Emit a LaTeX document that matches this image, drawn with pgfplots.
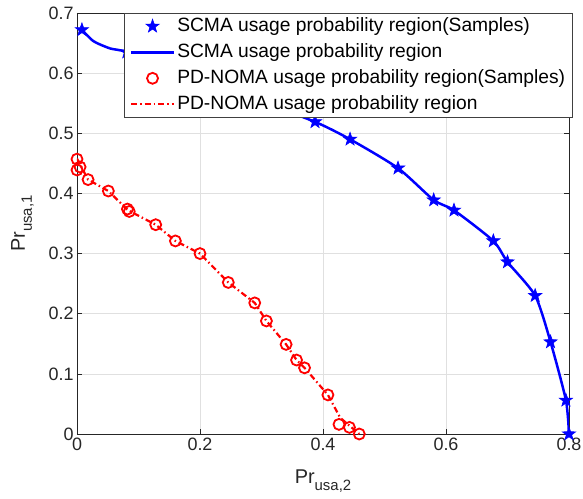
\documentclass[border=0pt]{standalone}
\usepackage{fontspec}
\setmainfont{Liberation Sans}
\usepackage{pgfplots}
\pgfplotsset{compat=1.18}
\pgfdeclareplotmark{pentagram}{%
  \pgfpathmoveto{\pgfpointpolar{90}{\pgfplotmarksize}}%
  \pgfpathlineto{\pgfpointpolar{126}{0.40\pgfplotmarksize}}%
  \pgfpathlineto{\pgfpointpolar{162}{\pgfplotmarksize}}%
  \pgfpathlineto{\pgfpointpolar{198}{0.40\pgfplotmarksize}}%
  \pgfpathlineto{\pgfpointpolar{234}{\pgfplotmarksize}}%
  \pgfpathlineto{\pgfpointpolar{270}{0.40\pgfplotmarksize}}%
  \pgfpathlineto{\pgfpointpolar{306}{\pgfplotmarksize}}%
  \pgfpathlineto{\pgfpointpolar{342}{0.40\pgfplotmarksize}}%
  \pgfpathlineto{\pgfpointpolar{18}{\pgfplotmarksize}}%
  \pgfpathlineto{\pgfpointpolar{54}{0.40\pgfplotmarksize}}%
  \pgfpathclose
  \pgfusepathqfillstroke}
\begin{document}
\begin{tikzpicture}
\path[use as bounding box] (-77bp,-65bp) rectangle (506bp,434bp);
\begin{axis}[
  at={(0,0)}, anchor=south west,
  scale only axis, width=492bp, height=421bp,
  xmin=0, xmax=0.8, ymin=0, ymax=0.7,
  xtick={0,0.2,0.4,0.6,0.8}, xticklabels={0,0.2,0.4,0.6,0.8},
  ytick={0,0.1,0.2,0.3,0.4,0.5,0.6,0.7},
  yticklabels={0,0.1,0.2,0.3,0.4,0.5,0.6,0.7},
  tick align=inside, major tick length=5bp,
  tick style={black!85, line width=0.6bp},
  axis line style={black!85, line width=0.6bp},
  grid=major, grid style={black!12, line width=0.6bp},
  ticklabel style={font=\fontsize{18}{20}\selectfont, text=black!85},
  /pgf/number format/assume math mode=true,
  xlabel={Pr\raisebox{-0.35em}{\fontsize{15}{15}\selectfont usa,2}},
  ylabel={Pr\raisebox{-0.35em}{\fontsize{15}{15}\selectfont usa,1}},
  label style={font=\fontsize{20}{22}\selectfont, text=black!85},
  xlabel style={yshift=-13bp},
  ylabel style={yshift=8bp},
  legend style={at={(1,1)}, anchor=north east, xshift=4bp,
    font=\fontsize{19.3}{22}\selectfont, draw=black!75, line width=0.6bp,
    inner xsep=5.5bp, inner ysep=0bp,
    nodes={text height=14bp, text depth=4bp, inner ysep=4bp}},
  legend cell align=left,
  legend image code/.code={\draw[mark repeat=2,mark phase=2,#1] plot coordinates {(0bp,0bp) (21.5bp,0bp) (43bp,0bp)};},
]
% SCMA samples
\addplot[only marks, blue, mark=pentagram, mark size=7bp, mark options={fill=blue, line width=0.6bp}] coordinates {
(0.008,0.672) (0.081,0.635) (0.18,0.598) (0.28,0.560) (0.387,0.519) (0.444,0.490) (0.522,0.442) (0.580,0.389)
(0.613,0.372) (0.677,0.321) (0.700,0.286) (0.745,0.230) (0.770,0.153) (0.795,0.056) (0.800,0.000)
};
\addlegendentry{SCMA usage probability region(Samples)}
% SCMA curve
\addplot[blue, line width=2.5bp, smooth, tension=0.4] coordinates {
(0.008,0.672) (0.027,0.653) (0.054,0.641) (0.081,0.635) (0.18,0.598) (0.28,0.560) (0.387,0.519) (0.444,0.490) (0.522,0.442) (0.580,0.389)
(0.613,0.372) (0.677,0.321) (0.700,0.286) (0.745,0.230) (0.770,0.153) (0.795,0.056) (0.800,0.000)
};
\addlegendentry{SCMA usage probability region}
% PD-NOMA samples
\addplot[only marks, red, mark=o, mark size=5.5bp, mark options={line width=1.8bp}] coordinates {
(0,0.457) (0.005,0.444) (0,0.439) (0.018,0.423) (0.051,0.404) (0.082,0.374) (0.085,0.370) (0.128,0.348)
(0.160,0.321) (0.200,0.300) (0.246,0.252) (0.289,0.218) (0.308,0.188) (0.340,0.149) (0.357,0.123)
(0.370,0.110) (0.408,0.065) (0.426,0.016) (0.443,0.011) (0.459,0.000)
};
\addlegendentry{PD-NOMA usage probability region(Samples)}
% PD-NOMA curve
\addplot[red, line width=2.2bp, dash pattern=on 6bp off 3bp on 1.5bp off 3bp] coordinates {
(0,0.458) (0.018,0.423) (0.051,0.404) (0.083,0.372) (0.128,0.348) (0.160,0.321) (0.200,0.300) (0.246,0.252)
(0.289,0.218) (0.308,0.188) (0.340,0.149) (0.357,0.123) (0.370,0.110) (0.408,0.065) (0.428,0.027) (0.459,0.000)
};
\addlegendentry{PD-NOMA usage probability region}
\end{axis}
\end{tikzpicture}
\end{document}
